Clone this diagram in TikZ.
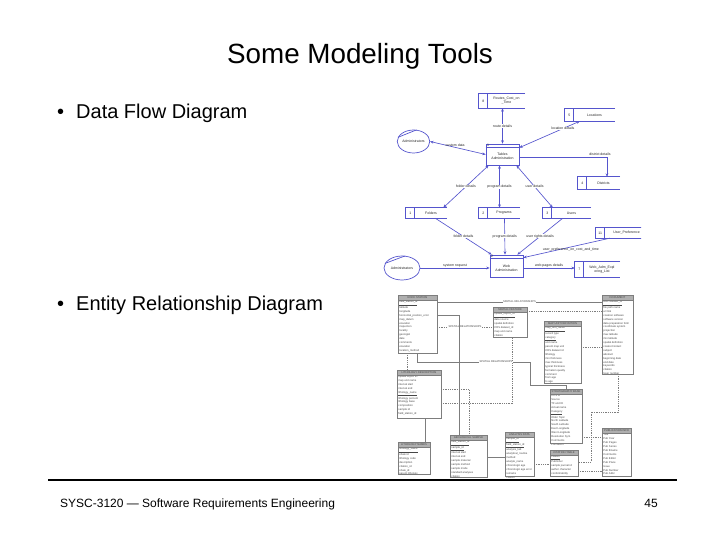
\documentclass[tikz,border=0pt]{standalone}
\usepackage{fontspec}
\setmainfont{Liberation Sans}
\usetikzlibrary{calc,arrows.meta,shapes.geometric}
\definecolor{dfdblue}{RGB}{85,85,205}
\definecolor{erdgray}{RGB}{125,125,125}
\definecolor{erdhead}{RGB}{175,175,175}
\definecolor{erdtext}{RGB}{70,70,70}
\tikzset{
 dfdtxt/.style={font=\fontsize{3.5}{4}\selectfont, text=black!85, inner sep=0.3pt, align=center},
 flowlbl/.style={dfdtxt, fill=white},
 flow/.style={draw=dfdblue, line width=0.65pt, -{Stealth[length=3.4pt,width=2.8pt]}},
 flow2/.style={flow, {Stealth[length=3.4pt,width=2.8pt]}-{Stealth[length=3.4pt,width=2.8pt]}},
 procbox/.style={draw=dfdblue, line width=0.7pt, inner sep=0, dfdtxt},
 extent/.style={draw=dfdblue, ellipse, line width=0.7pt, inner sep=0, dfdtxt},
 storebox/.style={inner sep=0, dfdtxt},
 dfdline/.style={draw=dfdblue, line width=0.7pt},
 erdbox/.style={inner sep=0, outer sep=0},
 erdframe/.style={draw=erdgray, line width=0.5pt},
 erdtitle/.style={font=\fontsize{2.7}{3}\selectfont, text=erdtext, inner sep=0},
 erdfields/.style={font=\fontsize{2.7}{3.9}\selectfont, text=erdtext, inner sep=0, align=left},
 rel/.style={draw=erdgray, line width=0.5pt},
 reld/.style={rel, dash pattern=on 1pt off 0.8pt},
 rellbl/.style={font=\fontsize{2.7}{3}\selectfont, text=erdtext, fill=white, inner sep=0.4pt},
 slidetitle/.style={font=\fontsize{27.8}{32}\selectfont, inner sep=0},
 bullettxt/.style={font=\fontsize{20}{24}\selectfont, inner sep=0},
 foottxt/.style={font=\fontsize{12}{14}\selectfont, inner sep=0},
}
\newcommand{\dfdstore}[7]{%
 \node[storebox, minimum width=#4pt, minimum height=#5pt] (#1) at (#2,#3) {};
 \draw[dfdline] (#1.north east) -- (#1.north west) -- (#1.south west) -- (#1.south east);
 \draw[dfdline] ([xshift=9pt]#1.north west) -- ([xshift=9pt]#1.south west);
 \node[dfdtxt] at ([xshift=4.5pt]#1.west) {#6};
 \node[dfdtxt] at ([xshift=4.5pt]#1.center) {#7};
}
\newcommand{\erdtab}[7]{%
 \node[erdbox, minimum width=#4pt, minimum height=#5pt, anchor=north west] (#1) at (#2,#3) {};
 \fill[erdhead] (#1.north west) rectangle ([yshift=-5pt]#1.north east);
 \node[erdtitle] at ([yshift=-2.5pt]#1.north) {#6};
 \node[erdfields, anchor=north west] at ([shift={(1.2pt,-5.8pt)}]#1.north west) {#7};
 \draw[erdframe] (#1.north west) rectangle (#1.south east);
 \draw[erdframe] ([yshift=-5pt]#1.north west) -- ([yshift=-5pt]#1.north east);
}
\begin{document}
\begin{tikzpicture}[x=1pt,y=-1pt]
\useasboundingbox (0,0) rectangle (720,540);
% slide text
\node[slidetitle, anchor=base] (title) at (360,64) {Some Modeling Tools};
\node[bullettxt, anchor=base west] (bul1) at (57,119) {•};
\node[bullettxt, anchor=base west] (b1) at (76,119) {Data Flow Diagram};
\node[bullettxt, anchor=base west] (bul2) at (57,310) {•};
\node[bullettxt, anchor=base west] (b2) at (76,310) {Entity Relationship Diagram};
\draw[line width=2pt] (48,480) -- (677,480);
\node[foottxt, anchor=base west] (foot) at (60,507) {SYSC-3120 — Software Requirements Engineering};
\node[foottxt, anchor=base east] (page) at (658,507) {45};

% ---------------- DFD ----------------
\begin{scope}
\clip (383,88) rectangle (641,283);
\dfdstore{s8}{502}{101}{46}{14}{8}{Routes\_Cost\_on\\\_Time}
\dfdstore{s5}{590}{115}{50}{12}{5}{Locations}
\dfdstore{s4}{599}{183}{42}{12}{4}{Districts}
\dfdstore{s1}{426.5}{213}{41}{10}{1}{Folders}
\dfdstore{s2}{499.5}{213}{41}{10}{2}{Programs}
\dfdstore{s3}{567}{213}{48}{10}{3}{Users}
\dfdstore{s11}{622}{233}{52}{10}{11}{User\_Preference}
\dfdstore{s7}{597.5}{269.5}{45}{15}{7}{Web\_Adm\_Expl\\oring\_List}

\node[procbox, minimum width=33pt, minimum height=21pt] (p1) at (502.5,154.5) {};
\draw[dfdline] ([yshift=-4pt]p1.north west) -- ([yshift=-4pt]p1.north east);
\node[dfdtxt, anchor=north west] at ([shift={(1pt,-0.4pt)}]p1.north west) {1};
\node[dfdtxt] at ([yshift=-2pt]p1.center) {Tables\\Administration};

\node[procbox, minimum width=33pt, minimum height=22pt] (p2) at (506.5,266) {};
\draw[dfdline] ([yshift=-4pt]p2.north west) -- ([yshift=-4pt]p2.north east);
\node[dfdtxt, anchor=north west] at ([shift={(1pt,-0.4pt)}]p2.north west) {2};
\node[dfdtxt] at ([yshift=-2pt]p2.center) {Web\\Administration};

\node[extent, minimum width=31pt, minimum height=23pt] (e1) at (413.5,141.5) {Administrators};
\draw[dfdline] (e1.165) -- (e1.75);
\node[extent, minimum width=36pt, minimum height=24pt] (e2) at (402,268) {Administrators};
\draw[dfdline] (e2.165) -- (e2.75);

\draw[flow2] (p1.north) -- node[flowlbl]{route details} (p1.north |- s8.south);
\draw[flow2] ([yshift=-4pt]p1.north east) -- node[flowlbl, pos=0.72]{location details} ($(s5.south west)+(15,0)$);
\draw[flow2] (e1.east) -- node[dfdtxt, above=0.4pt, pos=0.45]{custom data} (p1.west);
\draw[flow] ([yshift=-2.5pt]p1.east) -| node[dfdtxt, pos=0.46, above=0.6pt]{district details} ([xshift=8pt]s4.north);
\draw[flow2] ($(p1.south west)+(3,0)$) -- node[flowlbl]{folder details} ($(s1.north east)+(-4,0)$);
\draw[flow2] (p1.south -| s2.north) -- node[flowlbl]{program details} (s2.north);
\draw[flow2] ($(p1.south east)+(-3,0)$) -- node[flowlbl]{user details} ($(s3.north west)+(10,0)$);
\draw[flow] ($(s1.south east)+(-12,0)$) -- node[flowlbl]{folder details} ($(p2.north west)+(2,0)$);
\draw[flow] ($(s2.south)+(5,0)$) -- node[flowlbl]{program details} ($(p2.north)+(-1.5,0)$);
\draw[flow] ($(s3.south west)+(20,0)$) -- node[flowlbl]{user rights details} ($(p2.north east)+(-6,0)$);
\draw[flow] ($(s11.south west)+(14,0)$) -- node[dfdtxt, pos=0.45, below=0.3pt]{user\_preference\_on\_cost\_and\_time} ($(p2.north east)+(0,3)$);
\draw[flow] (e2.east) -- node[dfdtxt, above=0.5pt]{system request} (e2.east -| p2.west);
\draw[flow] ([yshift=-2pt]p2.east) -- node[dfdtxt, above=0.5pt]{web pages details} ([yshift=-2pt]p2.east -| s7.west);
\end{scope}

% ---------------- ERD ----------------
\erdtab{A}{398}{295}{39}{58}{ROCK STATION}{\underline{field\_station\_id}\\latitude\\longitude\\horizontal\_position\_error\\map\_datum\\elevation\\inspection\\locality\\geologist\\date\\comments\\elevation\\location\_method}
\erdtab{B}{493}{307}{34}{30}{SPATIAL FEATURE}{\underline{spatial\_object\_id}\\data source\\spatial definition\\CRS dataset\_id\\map unit name\\citation}
\erdtab{C}{544}{321}{37}{62}{MAP UNIT DEFINITION}{\underline{map\_unit\_name}\\record type\\\underline{category}\\unit name\\parent map unit\\CRS dataset id\\lithology\\min thickness\\max thickness\\typical thickness\\formation quality\\comment\\from age\\to age}
\erdtab{D}{602}{295}{31}{79}{DOCUMENT}{\underline{URL dataset\_id}\\file path name\\url link\\creation software\\software version\\data preparation form\\coordinate system\\projection\\max latitude\\min latitude\\spatial definition\\creator/contact\\subject\\abstract\\beginning date\\end date\\keywords\\citation\\layer number}
\erdtab{E}{397}{370}{44}{48}{LITHOLOGY DESCRIPTION}{spatial object ID\\map unit name\\interval start\\interval end\\\underline{lithology\_name}\\lithology percent\\lithology base\\composition\\sample id\\field\_station\_id}
\erdtab{F}{398}{442}{32}{32}{LITHOLOGY NAMES}{\underline{lithology\_name}\\shale id\\lithology code\\description\\citation\_id\\shale\_id\\parent lithology}
\erdtab{G}{450}{435}{37}{42}{GEOLOGICAL SAMPLE}{\underline{field\_station\_id}\\\underline{sample\_id}\\interval start\\interval end\\sample material\\sample method\\sample mode\\standard analyses\\citation}
\erdtab{H}{505}{432}{29}{44}{ANALYSIS DATA}{\underline{sample\_id}\\\underline{field\_station\_id}\\analysis\_lab\\analytical\_routine\\method\\analyte\_name\\chronologic age\\chronologic age error\\remarks\\citation}
\erdtab{I}{550}{389}{32}{54}{STRATIGRAPHY BASE}{CCS id\\Source\\TF unit ID\\Actual name\\\underline{Category}\\Older Topic\\North Latitude\\South Latitude\\East Longitude\\West Longitude\\Resolution Sym\\Comments\\Formation}
\erdtab{J}{550}{450}{28}{26}{CITATION TABLE}{\underline{citation}\\Publisher\\sample journal id\\author character\\conformability}
\erdtab{K}{602}{428}{29}{48}{PUBLICATION INFO}{Title\\Pub Year\\Pub Pages\\Pub Series\\Pub Bname\\Comments\\Pub Editor\\Pub Place\\Issue\\Pub Number\\Pub Abbr}

\draw[rel] (A.east |- 0,302) -- node[rellbl]{SPATIAL RELATIONSHIPS} (D.west |- 0,302);
\draw[reld] (A.east |- 0,327) -- node[rellbl]{SPATIAL RELATIONSHIPS} (B.west |- 0,327);
\draw[reld] (B.east |- 0,311) -- (D.west |- 0,311);
\draw[reld] (C.east |- 0,347) -- (D.west |- 0,347);
\draw[rel] (A.east |- 0,315) -- (459,315) -- (G.north -| 459,0);
\draw[reld] (E.east |- 0,389) -- (469,389) -- (G.north -| 469,0);
\draw[reld] (E.east |- 0,403) -- (512,403) -- (B.south -| 512,0);
\draw[reld] (A.south -| 407,0) -- (E.north -| 407,0);
\draw[rel] (A.south -| 417,0) -- (417,362) -- node[rellbl, pos=0.7]{SPATIAL RELATIONSHIPS} (530,362) -- (530,385) -- (566,385) -- (I.north -| 566,0);
\draw[rel] (E.south -| 425,0) -- (F.north -| 425,0);
\draw[rel] (G.east |- 0,457) -- (H.west |- 0,457);
\draw[reld] (H.east |- 0,464) -- (J.west |- 0,464);
\draw[reld] (I.east |- 0,437) -- (K.west |- 0,437);
\draw[reld] (J.east |- 0,471) -- (K.west |- 0,471);
\draw[reld] (D.south -| 618,0) -- (618,412) -- (591,412) -- (591,462) -- (J.east |- 0,462);
\end{tikzpicture}
\end{document}
